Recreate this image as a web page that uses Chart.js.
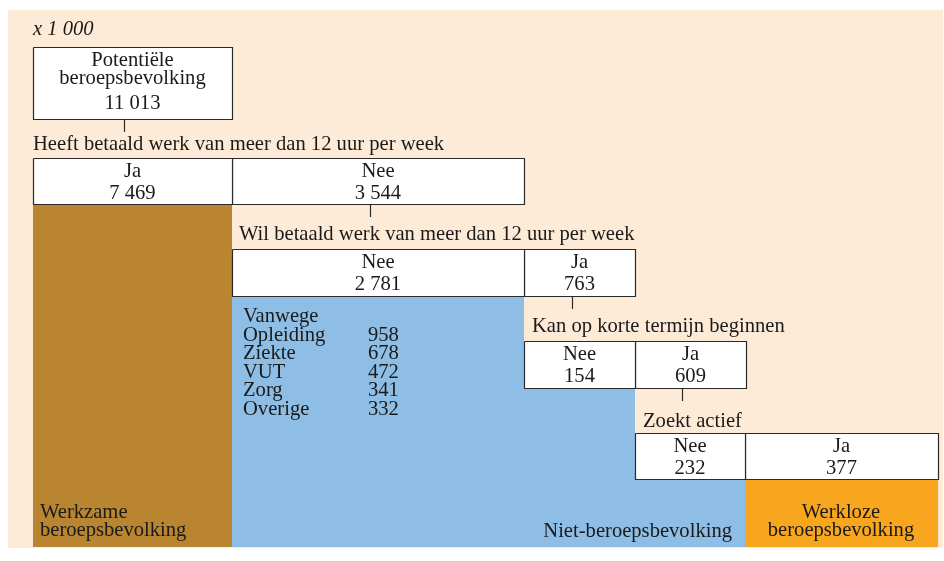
<!DOCTYPE html>
<html lang="nl">
<head>
<meta charset="utf-8">
<title>Potentiële beroepsbevolking</title>
<script src="https://cdn.jsdelivr.net/npm/chart.js@4.4.1/dist/chart.umd.min.js"></script>
<style>
  html, body { margin: 0; padding: 0; background: #fff; }
  canvas { display: block; }
</style>
</head>
<body>
<canvas id="schema" width="944" height="561"></canvas>
<script>
// waarden x 1 000
const eenheid = 'x 1 000';
const potentieelLabel = ['Potentiële', 'beroepsbevolking'];
const potentieelWaarde = 11013;

const vraag1 = 'Heeft betaald werk van meer dan 12 uur per week';
const antwoorden1 = ['Ja', 'Nee'];
const waarden1 = [7469, 3544];

const vraag2 = 'Wil betaald werk van meer dan 12 uur per week';
const antwoorden2 = ['Nee', 'Ja'];
const waarden2 = [2781, 763];

const vraag3 = 'Kan op korte termijn beginnen';
const antwoorden3 = ['Nee', 'Ja'];
const waarden3 = [154, 609];

const vraag4 = 'Zoekt actief';
const antwoorden4 = ['Nee', 'Ja'];
const waarden4 = [232, 377];

const redenKop = 'Vanwege';
const redenen = ['Opleiding', 'Ziekte', 'VUT', 'Zorg', 'Overige'];
const redenWaarden = [958, 678, 472, 341, 332];

const groepen = [['Werkzame', 'beroepsbevolking'], ['Niet-beroepsbevolking'], ['Werkloze', 'beroepsbevolking']];

// indeling van het schema (eenheden van de assen)
const kleuren = { achtergrond: '#fdebd7', werkzaam: '#b98530', niet: '#8ebee6', werkloos: '#f7a61e', lijn: '#2a2a2a', tekst: '#1a1a1a' };
const potKader = [33, 232, 47, 119];
const rijen = [
    { randen: [33, 232, 524], boven: 158, onder: 204, vraagX: 33, vraagY: 150, lijnX: 124 },
    { randen: [232, 524, 635], boven: 249, onder: 296, vraagX: 239, vraagY: 240, lijnX: 370 },
    { randen: [524, 635, 746], boven: 341, onder: 388, vraagX: 532, vraagY: 332, lijnX: 572 },
    { randen: [635, 745, 938], boven: 433, onder: 479, vraagX: 643, vraagY: 427, lijnX: 682 }
];
const lettertype = '20.6px "Liberation Serif", "Times New Roman", serif';

function formatteer(n) {
    return String(n).replace(/\B(?=(\d{3})+(?!\d))/g, ' ');
}

function rechthoek(x0, x1, y0, y1) {
    return [{x: x0, y: y0}, {x: x1, y: y0}, {x: x1, y: y1}, {x: x0, y: y1}, {x: x0, y: y0}];
}

function vlak(punten, kleur, volgorde) {
    return { data: punten, showLine: true, fill: 'shape', backgroundColor: kleur, borderWidth: 0, pointRadius: 0, order: volgorde };
}

function kader(x0, x1, y0, y1) {
    return { data: rechthoek(x0 + 0.5, x1 + 0.5, y0 + 0.5, y1 + 0.5), showLine: true, fill: 'shape',
        backgroundColor: '#ffffff', borderColor: kleuren.lijn, borderWidth: 1.2, pointRadius: 0, order: 2 };
}

function streep(x, y0, y1) {
    return { data: [{x: x + 0.5, y: y0}, {x: x + 0.5, y: y1}], showLine: true, fill: false,
        borderColor: kleuren.lijn, borderWidth: 1.2, pointRadius: 0, order: 1 };
}

const datasets = [];
datasets.push(vlak(rechthoek(8, 943, 10, 548), kleuren.achtergrond, 6));
datasets.push(vlak(rechthoek(33, 232, 204, 547), kleuren.werkzaam, 5));
datasets.push(vlak([
    {x: 232, y: 296}, {x: 524, y: 296}, {x: 524, y: 388}, {x: 635, y: 388}, {x: 635, y: 479},
    {x: 745, y: 479}, {x: 745, y: 547}, {x: 232, y: 547}, {x: 232, y: 296}
], kleuren.niet, 5));
datasets.push(vlak(rechthoek(745, 938, 479, 547), kleuren.werkloos, 5));

datasets.push(kader(potKader[0], potKader[1], potKader[2], potKader[3]));
rijen.forEach(rij => {
    datasets.push(kader(rij.randen[0], rij.randen[1], rij.boven, rij.onder));
    datasets.push(kader(rij.randen[1], rij.randen[2], rij.boven, rij.onder));
});
// verbindingslijnen
datasets.push(streep(rijen[0].lijnX, potKader[3], potKader[3] + 13));
for (let i = 0; i < 3; i++) {
    datasets.push(streep(rijen[i + 1].lijnX, rijen[i].onder, rijen[i].onder + 13));
}

const vragen = [vraag1, vraag2, vraag3, vraag4];
const antwoorden = [antwoorden1, antwoorden2, antwoorden3, antwoorden4];
const waarden = [waarden1, waarden2, waarden3, waarden4];

const tekstPlugin = {
    id: 'teksten',
    afterDatasetsDraw(chart) {
        const { ctx, scales: { x, y } } = chart;
        function schrijf(tekst, px, py, uitlijning, cursief) {
            ctx.font = (cursief ? 'italic ' : '') + lettertype;
            ctx.textAlign = uitlijning;
            ctx.fillText(tekst, x.getPixelForValue(px), y.getPixelForValue(py));
        }
        ctx.save();
        ctx.fillStyle = kleuren.tekst;
        ctx.textBaseline = 'alphabetic';

        schrijf(eenheid, 33, 35, 'left', true);
        const potMidden = (potKader[0] + potKader[1]) / 2;
        schrijf(potentieelLabel[0], potMidden, 66, 'center');
        schrijf(potentieelLabel[1], potMidden, 84, 'center');
        schrijf(formatteer(potentieelWaarde), potMidden, 109, 'center');

        rijen.forEach((rij, i) => {
            schrijf(vragen[i], rij.vraagX, rij.vraagY, 'left');
            for (let j = 0; j < 2; j++) {
                const midden = (rij.randen[j] + rij.randen[j + 1]) / 2;
                schrijf(antwoorden[i][j], midden, rij.boven + 19, 'center');
                schrijf(formatteer(waarden[i][j]), midden, rij.boven + 41, 'center');
            }
        });

        schrijf(redenKop, 243, 322, 'left');
        redenen.forEach((reden, i) => {
            schrijf(reden, 243, 340.6 + i * 18.6, 'left');
            schrijf(formatteer(redenWaarden[i]), 368, 340.6 + i * 18.6, 'left');
        });

        schrijf(groepen[0][0], 40, 518, 'left');
        schrijf(groepen[0][1], 40, 536, 'left');
        schrijf(groepen[1][0], 732, 537, 'right');
        schrijf(groepen[2][0], 841, 518, 'center');
        schrijf(groepen[2][1], 841, 536, 'center');
        ctx.restore();
    }
};

const schema = new Chart(document.getElementById('schema'), {
    type: 'scatter',
    data: { datasets: datasets },
    options: {
        responsive: false,
        animation: false,
        events: [],
        layout: { padding: 0 },
        plugins: { legend: { display: false }, tooltip: { enabled: false } },
        scales: {
            x: { type: 'linear', min: 0, max: 944, display: false },
            y: { type: 'linear', min: 0, max: 561, reverse: true, display: false }
        }
    },
    plugins: [tekstPlugin]
});
</script>
</body>
</html>
